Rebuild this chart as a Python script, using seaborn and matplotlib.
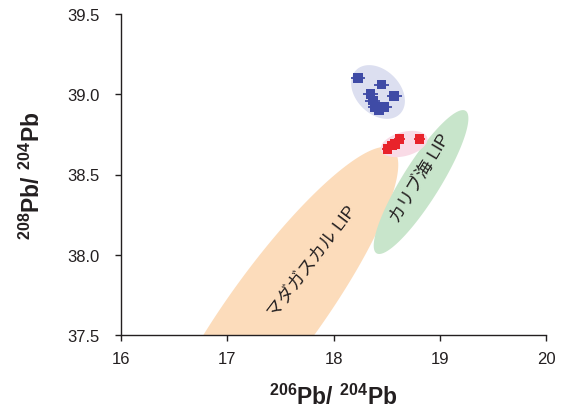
import numpy as np
import pandas as pd
import matplotlib
matplotlib.use("Agg")
import matplotlib.pyplot as plt
import seaborn as sns

# ---- data ----
blue_x = [18.23, 18.45, 18.35, 18.57, 18.37, 18.39, 18.48, 18.43]
blue_y = [39.10, 39.06, 39.00, 38.99, 38.96, 38.92, 38.92, 38.90]
red_x = [18.51, 18.55, 18.58, 18.62, 18.81]
red_y = [38.66, 38.68, 38.69, 38.72, 38.72]
blue_xerr, blue_yerr = 0.07, 0.02
red_xerr, red_yerr = 0.05, 0.015

# field ellipses: center (data), semi-axes (px), angle (deg, screen)
fields = {
    "madagascar": dict(c=(17.449, 37.650), a=200, b=46, ang=54, color="#fcdcbb"),
    "caribbean": dict(c=(18.824, 38.453), a=84, b=19, ang=58, color="#c8e5cb"),
    "red": dict(c=(18.664, 38.69), a=24, b=12, ang=15, color="#f9dbe6"),
    "blue": dict(c=(18.419, 39.014), a=31, b=22, ang=-45, color="#dcdff0"),
}
field_labels = [("マダガスカル LIP", 17.80, 37.96, 53), ("カリブ海 LIP", 18.824, 38.478, 59)]

xticks = [16, 17, 18, 19, 20]
yticks = [37.5, 38.0, 38.5, 39.0, 39.5]

sns.set_style("ticks")
plt.rcParams["font.family"] = ["Liberation Sans", "Noto Sans CJK JP", "DejaVu Sans"]
plt.rcParams["mathtext.fontset"] = "custom"
plt.rcParams["mathtext.bf"] = "Liberation Sans:bold"
plt.rcParams["mathtext.rm"] = "Liberation Sans"

fig = plt.figure(figsize=(5.63, 4.14), dpi=100)
ax = fig.add_axes([121/563, 1-336/414, 425/563, 321/414])
ax.set_xlim(16, 20)
ax.set_ylim(37.5, 39.5)

t = np.linspace(0, 2*np.pi, 200)
inv = ax.transData.inverted()
for k, f in fields.items():
    cx, cy = ax.transData.transform(f["c"])
    th = np.deg2rad(f["ang"])
    ex = f["a"]*np.cos(t)
    ey = f["b"]*np.sin(t)
    px = cx + ex*np.cos(th) - ey*np.sin(th)
    py = cy + ex*np.sin(th) + ey*np.cos(th)
    pts = inv.transform(np.column_stack([px, py]))
    ax.fill(pts[:, 0], pts[:, 1], color=f["color"], lw=0, zorder=1)

bdf = pd.DataFrame({"x": blue_x, "y": blue_y})
rdf = pd.DataFrame({"x": red_x, "y": red_y})
ax.errorbar(bdf.x, bdf.y, xerr=blue_xerr, yerr=blue_yerr, fmt="none",
            ecolor="#3f4ba6", elinewidth=1.3, capsize=0, zorder=3)
ax.errorbar(rdf.x, rdf.y, xerr=red_xerr, yerr=red_yerr, fmt="none",
            ecolor="#e8232b", elinewidth=1.3, capsize=0, zorder=3)
sns.scatterplot(data=bdf, x="x", y="y", marker="s", s=48, color="#3f4ba6",
                edgecolor="none", ax=ax, zorder=4)
sns.scatterplot(data=rdf, x="x", y="y", marker="s", s=48, color="#e8232b",
                edgecolor="none", ax=ax, zorder=4)

for txt, x, y, rot in field_labels:
    ax.text(x, y, txt, rotation=rot, rotation_mode="anchor", ha="center", va="center",
            fontsize=12.5, color="#231f20", zorder=5,
            family=["Liberation Sans", "Noto Sans CJK JP"])

ax.set_xticks(xticks)
ax.set_xticklabels([str(v) for v in xticks])
ax.set_yticks(yticks)
ax.set_yticklabels([f"{v:.1f}" for v in yticks])
ax.tick_params(labelsize=12, length=4.5, width=1, colors="#231f20", direction="out")
ax.tick_params(axis="y", pad=11)
ax.tick_params(axis="x", pad=7)
for s in ["left", "bottom"]:
    ax.spines[s].set_color("#231f20")
    ax.spines[s].set_linewidth(1)
sns.despine(ax=ax)

ax.set_xlabel(r"$\mathbf{^{206}Pb/\ ^{204}Pb}$", fontsize=16.5, labelpad=13, color="#231f20")
ax.set_ylabel(r"$\mathbf{^{208}Pb/\ ^{204}Pb}$", fontsize=16.5, labelpad=16, color="#231f20")

fig.savefig("out.png", dpi=100)
